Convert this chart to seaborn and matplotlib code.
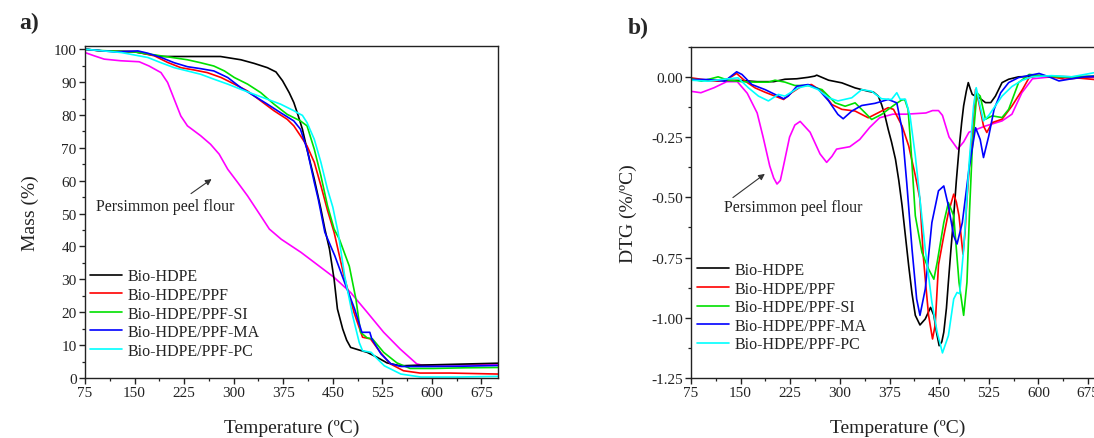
import numpy as np
import pandas as pd
import matplotlib
matplotlib.use("Agg")
import matplotlib.pyplot as plt
from matplotlib.ticker import MultipleLocator, FuncFormatter
import seaborn as sns

# ---------------- data ----------------
SAMPLES = ["Bio-HDPE", "Bio-HDPE/PPF", "Bio-HDPE/PPF-SI", "Bio-HDPE/PPF-MA", "Bio-HDPE/PPF-PC"]
PPF = "Persimmon peel flour"
COLORS = {"Bio-HDPE": "#000000", "Bio-HDPE/PPF": "#ff0000", "Bio-HDPE/PPF-SI": "#00e000",
          "Bio-HDPE/PPF-MA": "#0000ff", "Bio-HDPE/PPF-PC": "#00ffff", PPF: "#ff00ff"}

# TGA: temperature (ºC) and residual mass (%)
tg_T_hdpe = [75, 100, 150, 190, 250, 280, 311, 331, 351, 364, 374, 384, 391, 397, 404, 411, 422,
             432, 438, 445, 452, 457, 465, 471, 477, 490, 502, 517, 532, 552, 580, 620, 660, 700]
tg_M_hdpe = [100, 99.5, 99.2, 97.8, 97.8, 97.8, 96.8, 95.7, 94.4, 93.1, 90.4, 86.8, 83.8, 80.2, 75.7,
             69.6, 60.5, 51.4, 45.3, 39.2, 30, 21, 14.9, 11.5, 9.3, 8.5, 7.8, 6.3, 4.6, 3.7, 3.9, 4.1, 4.3, 4.5]

tg_T_ppf = [75, 100, 150, 180, 200, 220, 240, 260, 281, 301, 321, 341, 361, 381, 391, 401, 411, 422,
            432, 442, 452, 467, 482, 495, 507, 522, 537, 557, 582, 627, 700]
tg_M_ppf = [100, 99.5, 99.3, 98, 96, 94.4, 93.7, 92.9, 91.4, 89.4, 87.3, 84.3, 81.3, 78.7, 76.7, 73.7,
            70.6, 65.6, 58.5, 51, 44.3, 31, 20, 12.4, 11.9, 7.8, 4.3, 2.2, 1.5, 1.5, 1.2]

tg_T_si = [75, 100, 150, 190, 230, 250, 270, 286, 301, 321, 341, 361, 381, 401, 411, 422, 432, 442,
           452, 460, 475, 485, 492, 502, 510, 527, 547, 567, 602, 650, 700]
tg_M_si = [100, 99.6, 99.2, 98, 96.8, 95.9, 94.9, 93.4, 91.4, 89.4, 86.8, 83.3, 80.2, 78.2, 76.7, 69.6,
           61.5, 52.4, 45.3, 42.2, 34, 24, 13.9, 12.2, 11.9, 7.8, 4.6, 2.9, 2.9, 3.1, 3.2]

tg_T_ma = [75, 120, 155, 170, 190, 210, 230, 250, 270, 291, 311, 331, 351, 371, 391, 401, 411, 422,
           428, 438, 453, 468, 483, 494, 506, 509, 523, 538, 553, 600, 650, 700]
tg_M_ma = [100, 99.2, 99.5, 98.8, 97.5, 95.9, 94.7, 94.1, 93.4, 91.4, 88.3, 85.8, 83.3, 80.7, 78.2,
           75.7, 69.6, 59.5, 54.4, 44.3, 37.2, 29, 21, 13.9, 13.9, 11.9, 7.3, 4.3, 3.5, 3.5, 3.6, 3.8]

tg_T_pc = [75, 130, 170, 190, 210, 230, 250, 270, 291, 311, 331, 351, 371, 391, 398, 404, 411, 422,
           432, 442, 450, 458, 468, 480, 490, 495, 508, 515, 528, 553, 583, 640, 700]
tg_M_pc = [100, 99, 97.5, 95.9, 94.4, 93.4, 92.4, 90.9, 89.4, 87.8, 86.3, 84.8, 83.3, 81.3, 80.5,
           79.9, 77.7, 72.6, 65.6, 57.4, 52, 44.3, 31, 19, 10.8, 8.3, 7.8, 6.3, 3.7, 1.2, 0.3, 0.3, 0.5]

tg_T_flour = [75, 89, 104, 129, 157, 172, 190, 200, 210, 220, 230, 250, 265, 278, 291, 306, 321, 341,
              354, 372, 402, 452, 477, 502, 527, 552, 577, 585, 620, 660, 700]
tg_M_flour = [99, 98, 97, 96.5, 96.2, 94.9, 92.9, 89.9, 84.8, 79.7, 76.7, 73.7, 71.1, 68.1, 63.5,
              59.5, 55.4, 49.3, 45.3, 42.2, 38.2, 30.6, 26, 20, 13.9, 8.8, 4.3, 3.9, 4.0, 4.0, 4.1]

# DTG: temperature (ºC) and derivative mass loss (%/ºC)
dtg_T_hdpe = [75, 100, 125, 150, 175, 200, 217, 235, 252, 262, 265, 283, 303, 323, 343, 351, 358, 363,
              368, 373, 378, 384, 389, 394, 399, 404, 409, 414, 421, 429, 437, 442, 446, 450, 454, 457,
              461, 464, 468, 472, 476, 480, 484, 487, 491, 494, 497, 500, 505, 510, 520, 528, 535, 545,
              555, 570, 600, 650, 700]
dtg_V_hdpe = [-0.01, -0.015, -0.015, -0.015, -0.02, -0.02, -0.01, -0.008, -0.002, 0.003, 0.007, -0.014,
              -0.025, -0.046, -0.06, -0.064, -0.08, -0.115, -0.16, -0.218, -0.27, -0.342, -0.43, -0.535,
              -0.66, -0.785, -0.9, -0.99, -1.03, -1.005, -0.957, -0.99, -1.06, -1.116, -1.1, -1.06,
              -0.96, -0.85, -0.71, -0.577, -0.43, -0.30, -0.19, -0.12, -0.06, -0.024, -0.05, -0.073,
              -0.08, -0.086, -0.107, -0.107, -0.08, -0.024, -0.01, 0.0, 0.003, 0.0, 0.002]

dtg_T_ppf = [75, 90, 101, 116, 131, 144, 157, 172, 187, 202, 215, 227, 242, 257, 273, 288, 303, 323,
             343, 358, 373, 381, 394, 404, 414, 421, 426, 430, 434, 440, 444, 449, 457, 464, 472, 476,
             480, 486, 489, 492, 496, 500, 505, 510, 517, 522, 530, 545, 560, 576, 586, 600, 620, 640,
             660, 680, 700]
dtg_V_ppf = [-0.004, -0.01, -0.014, -0.018, -0.008, 0.014, -0.018, -0.046, -0.064, -0.08, -0.094,
             -0.066, -0.039, -0.032, -0.06, -0.115, -0.135, -0.142, -0.17, -0.149, -0.128, -0.135,
             -0.204, -0.287, -0.41, -0.508, -0.743, -0.87, -0.99, -1.088, -1.03, -0.78, -0.66, -0.563,
             -0.487, -0.52, -0.577, -0.736, -0.65, -0.508, -0.36, -0.231, -0.052, -0.107, -0.204,
             -0.231, -0.19, -0.176, -0.121, -0.052, -0.003, 0.005, 0.0, -0.01, -0.005, -0.01, -0.015]

dtg_T_si = [75, 91, 116, 131, 152, 172, 192, 202, 217, 232, 252, 273, 293, 308, 323, 338, 348, 363,
            383, 393, 398, 403, 407, 414, 424, 434, 442, 447, 457, 464, 472, 480, 487, 492, 496, 500,
            507, 512, 520, 530, 545, 555, 570, 586, 601, 630, 660, 700]
dtg_V_si = [-0.008, -0.018, 0.0, -0.014, -0.02, -0.022, -0.022, -0.014, -0.022, -0.036, -0.036,
            -0.053, -0.108, -0.122, -0.108, -0.149, -0.177, -0.156, -0.115, -0.097, -0.094, -0.135,
            -0.28, -0.577, -0.729, -0.798, -0.84, -0.77, -0.605, -0.522, -0.577, -0.853, -0.99,
            -0.853, -0.55, -0.30, -0.066, -0.08, -0.176, -0.162, -0.169, -0.135, -0.024, 0.01,
            0.006, 0.0, 0.0, 0.005]

dtg_T_ma = [75, 100, 126, 144, 152, 167, 187, 202, 215, 222, 235, 252, 267, 283, 297, 305, 318, 333,
            353, 373, 386, 394, 401, 409, 416, 421, 429, 439, 449, 457, 464, 472, 477, 485, 495, 505,
            512, 517, 525, 533, 543, 555, 570, 601, 616, 631, 646, 670, 700]
dtg_V_ma = [-0.011, -0.011, -0.018, 0.021, 0.01, -0.032, -0.053, -0.073, -0.091, -0.08, -0.039,
            -0.032, -0.05, -0.1, -0.156, -0.174, -0.142, -0.119, -0.11, -0.094, -0.108, -0.218,
            -0.439, -0.715, -0.922, -0.99, -0.881, -0.605, -0.473, -0.453, -0.536, -0.66, -0.694,
            -0.605, -0.384, -0.211, -0.26, -0.335, -0.245, -0.135, -0.066, -0.024, -0.003, 0.014,
            0.0, -0.017, -0.01, 0.0, 0.005]

dtg_T_pc = [75, 101, 125, 146, 162, 177, 192, 207, 217, 237, 252, 267, 283, 297, 318, 333, 348, 363,
            378, 386, 391, 399, 406, 414, 421, 429, 439, 447, 455, 464, 472, 477, 481, 487, 495, 502,
            506, 512, 517, 525, 535, 545, 560, 575, 590, 620, 650, 690, 700]
dtg_V_pc = [-0.014, -0.018, -0.01, -0.004, -0.046, -0.08, -0.1, -0.073, -0.08, -0.046, -0.036,
            -0.053, -0.087, -0.1, -0.087, -0.053, -0.06, -0.091, -0.094, -0.066, -0.093, -0.093,
            -0.162, -0.328, -0.508, -0.715, -0.936, -1.06, -1.146, -1.074, -0.922, -0.895, -0.9,
            -0.715, -0.37, -0.121, -0.045, -0.121, -0.183, -0.16, -0.12, -0.08, -0.04, -0.015, 0.0,
            0.005, 0.0, 0.02, 0.015]

dtg_T_flour = [75, 90, 110, 129, 145, 160, 175, 184, 194, 200, 205, 210, 214, 224, 232, 240, 255, 270,
               280, 288, 295, 315, 330, 345, 360, 380, 400, 430, 440, 449, 455, 465, 478, 487, 495,
               520, 545, 560, 575, 591, 620, 660, 700]
dtg_V_flour = [-0.06, -0.066, -0.045, -0.02, -0.02, -0.068, -0.15, -0.25, -0.37, -0.42, -0.445,
               -0.43, -0.38, -0.25, -0.2, -0.185, -0.23, -0.32, -0.355, -0.33, -0.30, -0.29, -0.26,
               -0.21, -0.17, -0.155, -0.155, -0.15, -0.14, -0.14, -0.16, -0.25, -0.30, -0.27, -0.23,
               -0.204, -0.183, -0.155, -0.066, -0.008, 0.0, -0.005, 0.0]

x_ticks = [75, 150, 225, 300, 375, 450, 525, 600, 675]
tg_ticks = [0, 10, 20, 30, 40, 50, 60, 70, 80, 90, 100]
dtg_ticks = [-1.25, -1.00, -0.75, -0.50, -0.25, 0.00]


def long_frame(pairs):
    rows = []
    for name, (t, v) in pairs.items():
        rows.append(pd.DataFrame({"T": t, "value": v, "sample": name}))
    return pd.concat(rows, ignore_index=True)


tg_df = long_frame({
    "Bio-HDPE": (tg_T_hdpe, tg_M_hdpe), "Bio-HDPE/PPF": (tg_T_ppf, tg_M_ppf),
    "Bio-HDPE/PPF-SI": (tg_T_si, tg_M_si), "Bio-HDPE/PPF-MA": (tg_T_ma, tg_M_ma),
    "Bio-HDPE/PPF-PC": (tg_T_pc, tg_M_pc), PPF: (tg_T_flour, tg_M_flour)})
dtg_df = long_frame({
    "Bio-HDPE": (dtg_T_hdpe, dtg_V_hdpe), "Bio-HDPE/PPF": (dtg_T_ppf, dtg_V_ppf),
    "Bio-HDPE/PPF-SI": (dtg_T_si, dtg_V_si), "Bio-HDPE/PPF-MA": (dtg_T_ma, dtg_V_ma),
    "Bio-HDPE/PPF-PC": (dtg_T_pc, dtg_V_pc), PPF: (dtg_T_flour, dtg_V_flour)})

# ---------------- style ----------------
sns.set_theme(style="ticks")
plt.rcParams["font.family"] = ["Liberation Serif", "DejaVu Serif"]
plt.rcParams["axes.unicode_minus"] = False
plt.rcParams["axes.linewidth"] = 1.0
plt.rcParams["axes.edgecolor"] = "#222222"

fig = plt.figure(figsize=(10.94, 4.39), dpi=100)
ax1 = fig.add_axes([0.0777, 0.1367, 0.3775, 0.7563])
ax2 = fig.add_axes([0.6316, 0.1367, 0.3781, 0.7546])

order = [PPF] + SAMPLES


def draw(ax, df):
    for name in order:
        sub = df[df["sample"] == name]
        sns.lineplot(data=sub, x="T", y="value", ax=ax, color=COLORS[name], lw=1.2,
                     estimator=None, sort=False, label=None if name == PPF else name,
                     legend=False)


draw(ax1, tg_df)
draw(ax2, dtg_df)


def style_axis(ax):
    ax.set_xlim(75, 700)
    ax.set_xticks(x_ticks)
    ax.xaxis.set_minor_locator(MultipleLocator(37.5))
    ax.tick_params(axis="both", which="major", direction="out", length=4, width=1.0,
                   labelsize=11, colors="#222222", pad=2)
    ax.tick_params(axis="both", which="minor", direction="out", length=2.5, width=0.9,
                   colors="#222222")
    ax.tick_params(top=False, right=False, which="both")
    for s in ax.spines.values():
        s.set_visible(True)
        s.set_color("#222222")
    ax.set_xlabel("Temperature (ºC)", fontsize=14, color="#222222", labelpad=14)


style_axis(ax1)
ax1.set_ylim(0, 101)
ax1.set_yticks(tg_ticks)
ax1.yaxis.set_minor_locator(MultipleLocator(5))
ax1.set_ylabel("Mass (%)", fontsize=14, color="#222222", labelpad=11)

style_axis(ax2)
ax2.set_ylim(-1.25, 0.125)
ax2.set_yticks(dtg_ticks)
ax2.yaxis.set_minor_locator(MultipleLocator(0.125))
ax2.yaxis.set_major_formatter(FuncFormatter(lambda v, p: f"{v:.2f}"))
ax2.set_ylabel("DTG (%/ºC)", fontsize=14, color="#222222", labelpad=10)

legend_kw = dict(frameon=False, fontsize=11.5, handlelength=2.0, handletextpad=0.35,
                 labelspacing=0.16, borderpad=0, borderaxespad=0, loc="upper left")
leg1 = ax1.legend(**legend_kw, bbox_to_anchor=(0.012, 0.33))
leg2 = ax2.legend(**legend_kw, bbox_to_anchor=(0.014, 0.35))
for leg in (leg1, leg2):
    for t in leg.get_texts():
        t.set_color("#222222")

arrow = dict(arrowstyle="-|>", color="#333333", lw=0.8, mutation_scale=9)
ax1.annotate("", xy=(270, 61), xytext=(232, 55.6), arrowprops=arrow)
ax1.text(91.6, 52.3, PPF, fontsize=11.5, color="#222222", va="center", ha="left")
ax2.annotate("", xy=(190, -0.396), xytext=(135, -0.508), arrowprops=arrow)
ax2.text(125, -0.541, PPF, fontsize=11.5, color="#222222", va="center", ha="left")

fig.text(0.018, 0.947, "a)", fontsize=17, fontweight="bold", va="center", ha="left")
fig.text(0.574, 0.935, "b)", fontsize=17, fontweight="bold", va="center", ha="left")

fig.savefig("out.png", dpi=100)
